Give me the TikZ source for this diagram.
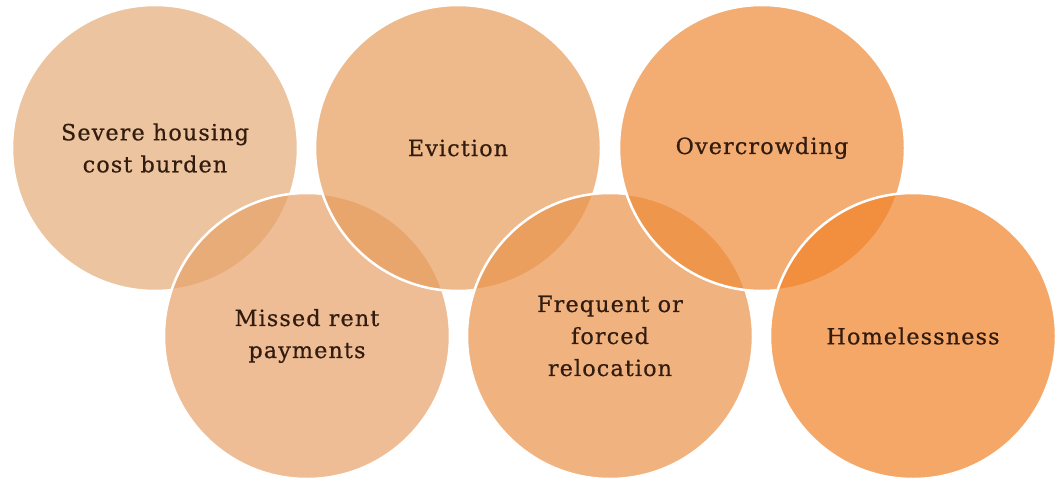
\documentclass[tikz,border=0pt]{standalone}
\usepackage{fontspec}
\setmainfont[LetterSpace=5,FakeBold=0.6]{DejaVu Serif}
\definecolor{c1}{RGB}{229,171,119}
\definecolor{c4}{RGB}{231,162,105}
\definecolor{c2}{RGB}{231,157,91}
\definecolor{c5}{RGB}{235,148,75}
\definecolor{c3}{RGB}{238,138,55}
\definecolor{c6}{RGB}{241,131,40}
\definecolor{txt}{RGB}{50,28,15}
\tikzset{
  bubble/.style={circle, minimum size=286pt, inner sep=0pt, draw=white, line width=2.5pt,
    fill opacity=0.7, text opacity=1, draw opacity=1, text=txt, align=center,
    font=\fontsize{22.3}{32}\selectfont}
}
\begin{document}
\begin{tikzpicture}[x=1pt,y=-1pt]
\useasboundingbox[fill=white] (0,0) rectangle (1060,482);
\node[bubble, fill=c1] (a) at (155,148) {\rule{0pt}{4pt}Severe housing\\cost burden};
\node[bubble, fill=c4] (d) at (307,336) {Missed rent\\payments};
\node[bubble, fill=c2] (b) at (458,148) {Eviction};
\node[bubble, fill=c5] (e) at (610,336) {Frequent or\\forced\\relocation};
\node[bubble, fill=c3] (c) at (762,148) {Overcrowding};
\node[bubble, fill=c6] (f) at (913,336) {Homelessness};
\end{tikzpicture}
\end{document}
